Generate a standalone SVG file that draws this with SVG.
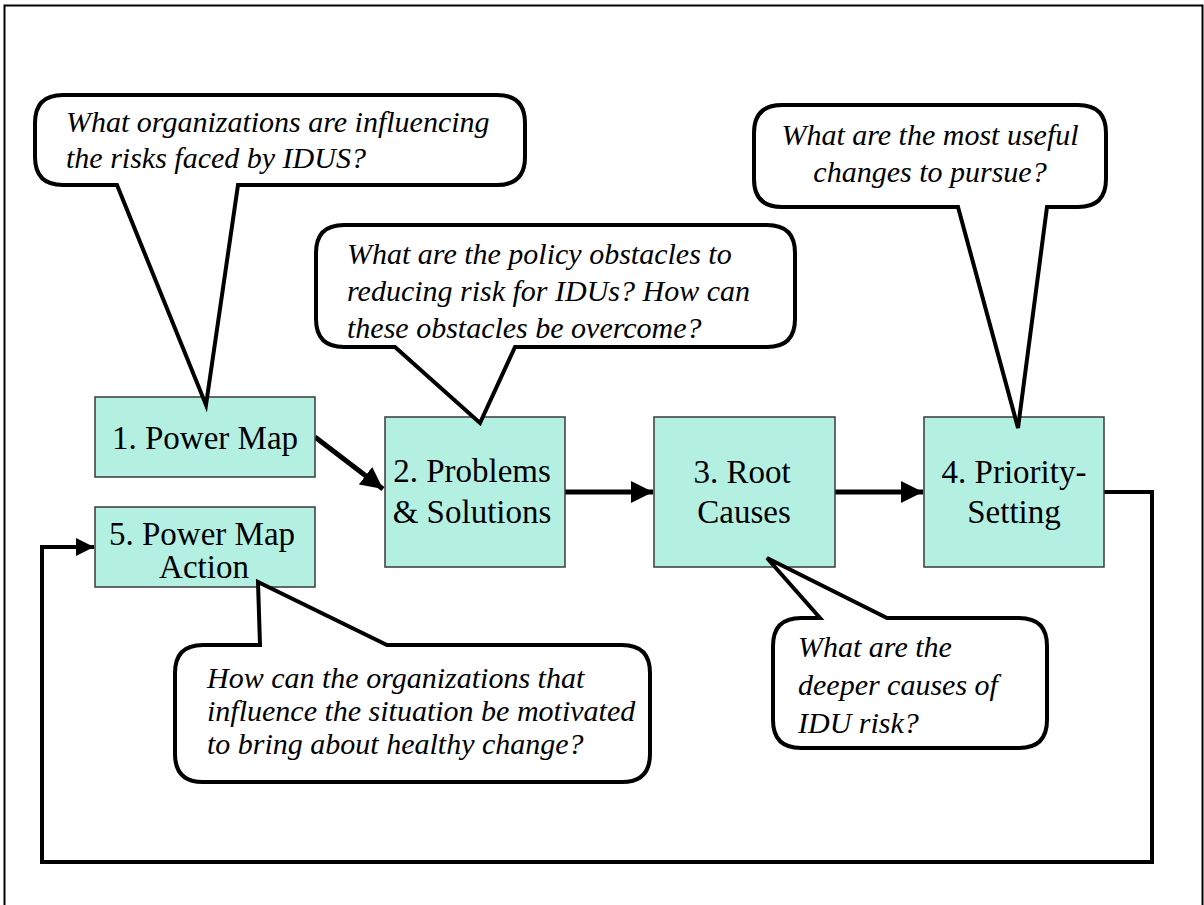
<svg xmlns="http://www.w3.org/2000/svg" width="1204" height="905" viewBox="0 0 1204 905">
<defs>
<style>
.box{fill:#b4f0e2;stroke:#3a3a3a;stroke-width:1.5}
.lbl{font-family:"Liberation Serif","Times New Roman",serif;font-size:33px;fill:#000;text-anchor:middle}
.call{fill:#fff;stroke:#000;stroke-width:4;stroke-linejoin:miter}
.q{font-family:"Liberation Serif","Times New Roman",serif;font-style:italic;font-size:30px;fill:#000}
.arr{fill:none;stroke:#000;stroke-width:5}
.loop{fill:none;stroke:#000;stroke-width:4}
</style>
<marker id="ah" markerUnits="userSpaceOnUse" markerWidth="24" markerHeight="22" refX="22" refY="11" orient="auto">
<path d="M0,0 L22,11 L0,22 Z" fill="#000"/>
</marker>
<marker id="ah2" markerUnits="userSpaceOnUse" markerWidth="20" markerHeight="20" refX="18" refY="9" orient="auto">
<path d="M0,0 L18,9 L0,18 Z" fill="#000"/>
</marker>
</defs>
<rect x="0" y="0" width="1204" height="905" fill="#fff"/>
<rect x="4.5" y="5.5" width="1198" height="910" fill="none" stroke="#000" stroke-width="2"/>

<g id="connectors">
<path class="arr" d="M315,437 L383,489" marker-end="url(#ah)"/>
<path class="arr" d="M565,492 L653,492" marker-end="url(#ah)"/>
<path class="arr" d="M835,492 L923,492" marker-end="url(#ah)"/>
<path class="loop" d="M1104,492 H1152 V862 H42 V547 H94" marker-end="url(#ah2)"/>
</g>

<g id="node1">
<rect class="box" x="95" y="397" width="220" height="80"/>
<text class="lbl" x="205" y="449">1. Power Map</text>
</g>
<g id="node2">
<rect class="box" x="385" y="417" width="180" height="150"/>
<text class="lbl" x="472" y="482">2. Problems</text>
<text class="lbl" x="472" y="523">&amp; Solutions</text>
</g>
<g id="node3">
<rect class="box" x="654" y="417" width="181" height="150"/>
<text class="lbl" x="742" y="483">3. Root</text>
<text class="lbl" x="744" y="523">Causes</text>
</g>
<g id="node4">
<rect class="box" x="924" y="417" width="180" height="150"/>
<text class="lbl" x="1014" y="483">4. Priority-</text>
<text class="lbl" x="1014" y="523">Setting</text>
</g>
<g id="node5">
<rect class="box" x="95" y="507" width="220" height="80"/>
<text class="lbl" x="202" y="545">5. Power Map</text>
<text class="lbl" x="204" y="578">Action</text>
</g>

<g id="callout1">
<path class="call" d="M63,95 H497 Q525,95 525,123 V157 Q525,185 497,185 H238 L206,405 L117,185 H63 Q35,185 35,157 V123 Q35,95 63,95 Z"/>
<text class="q" x="66" y="132">What organizations are influencing</text>
<text class="q" x="66" y="168">the risks faced by IDUS?</text>
</g>
<g id="callout2">
<path class="call" d="M344,225 H767 Q795,225 795,253 V319 Q795,347 767,347 H515 L480,423 L395,347 H344 Q316,347 316,319 V253 Q316,225 344,225 Z"/>
<text class="q" x="347" y="264">What are the policy obstacles to</text>
<text class="q" x="347" y="301">reducing risk for IDUs?  How can</text>
<text class="q" x="347" y="338">these obstacles be overcome?</text>
</g>
<g id="callout3">
<path class="call" d="M782,105 H1078 Q1106,105 1106,133 V179 Q1106,207 1078,207 H1047 L1018,428 L958,207 H782 Q754,207 754,179 V133 Q754,105 782,105 Z"/>
<text class="q" x="930" y="145" text-anchor="middle">What are the most useful</text>
<text class="q" x="930" y="182" text-anchor="middle">changes to pursue?</text>
</g>
<g id="callout4">
<path class="call" d="M801,618 H820 L767,558 L887,618 H1019 Q1047,618 1047,646 V720 Q1047,748 1019,748 H801 Q773,748 773,720 V646 Q773,618 801,618 Z"/>
<text class="q" x="798" y="657">What are the</text>
<text class="q" x="798" y="695">deeper causes of</text>
<text class="q" x="798" y="733">IDU risk?</text>
</g>
<g id="callout5">
<path class="call" d="M203,645 H260 L258,582 L387,645 H622 Q650,645 650,673 V754 Q650,782 622,782 H203 Q175,782 175,754 V673 Q175,645 203,645 Z"/>
<text class="q" x="207" y="688">How can the organizations that</text>
<text class="q" x="207" y="721">influence the situation be motivated</text>
<text class="q" x="207" y="754">to bring about healthy change?</text>
</g>
</svg>
